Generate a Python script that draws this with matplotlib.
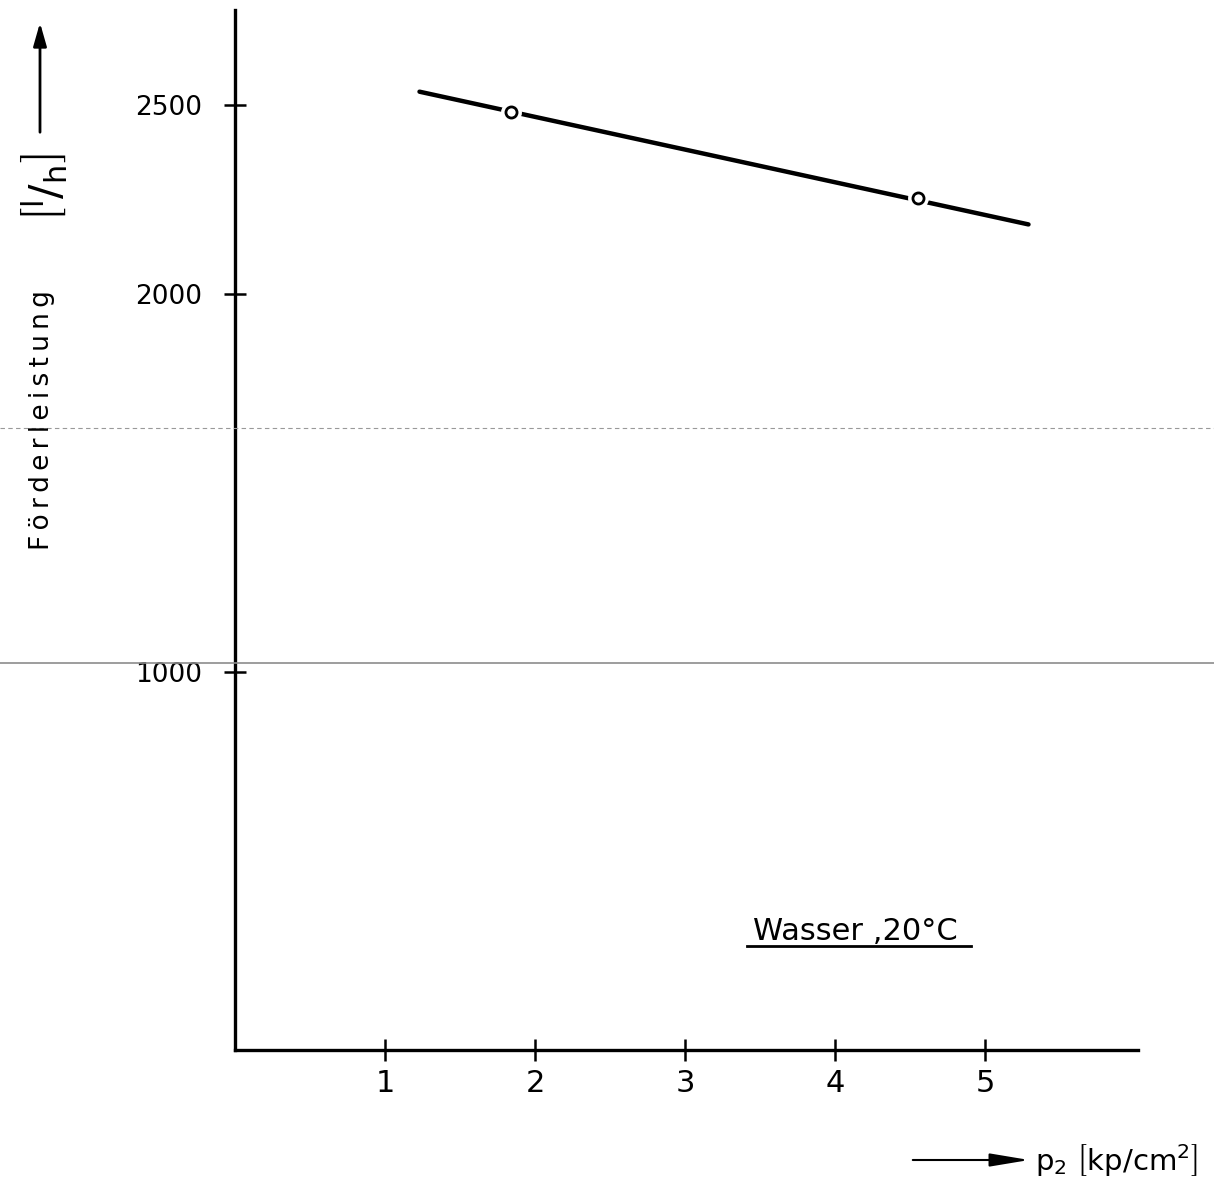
import matplotlib.pyplot as plt
from matplotlib.lines import Line2D
from matplotlib.patches import FancyArrowPatch

# Förderleistung über Druck p2 (Wasser, 20 °C)
line_p2 = [1.23, 5.29]
line_q = [2534, 2183]
meas_p2 = [1.84, 4.55]
meas_q = [2479, 2252]

x_ticks = [1, 2, 3, 4, 5]
x_ticklabels = ["1", "2", "3", "4", "5"]
y_ticks = [1000, 2000, 2500]
y_ticklabels = ["1000", "2000", "2500"]


def main() -> None:
    fig = plt.figure(figsize=(12.14, 11.96), dpi=100)
    ax = fig.add_axes([235 / 1214, 1 - 1050 / 1196, (1138 - 235) / 1214, (1050 - 10) / 1196])
    ax.set_xlim(0, 6.02)
    ax.set_ylim(0, 2750)

    for side in ("top", "right"):
        ax.spines[side].set_visible(False)
    for side in ("left", "bottom"):
        ax.spines[side].set_linewidth(2.4)

    ax.set_xticks(x_ticks)
    ax.set_xticklabels(x_ticklabels, family="Liberation Sans Narrow", fontsize=22)
    ax.set_yticks(y_ticks)
    ax.set_yticklabels(y_ticklabels, family="DejaVu Sans", fontsize=19)
    ax.tick_params(axis="x", direction="inout", length=16, width=1.8, pad=6)
    ax.tick_params(axis="y", direction="inout", length=16, width=1.8, pad=16)

    ax.plot(line_p2, line_q, color="black", lw=3.2, solid_capstyle="round")
    ax.plot(meas_p2, meas_q, "o", ms=14, mfc="white", mec="white", zorder=3)
    ax.plot(meas_p2, meas_q, "o", ms=8, mfc="white", mec="black", mew=2, zorder=4)

    # Legendentext unten rechts
    ax.text(0.574, (1050 - 940) / 1040, "Wasser ,20°C", transform=ax.transAxes,
            fontsize=22, family="DejaVu Sans", ha="left", va="baseline")
    ax.add_line(Line2D([0.567, 0.815], [0.1, 0.1], transform=ax.transAxes,
                       color="black", lw=2))

    # y-Achsenbeschriftung mit Pfeil
    fig.text(42 / 1214, 1 - 420 / 1196, "\u2009".join("Förderleistung"), rotation=90,
             fontsize=19, ha="center", va="center", family="DejaVu Sans")
    fig.text(44 / 1214, 1 - 188 / 1196, r"$\left[\mathrm{^l/_h}\right]$", rotation=90,
             fontsize=31, ha="center", va="center")
    fig.patches.append(FancyArrowPatch(
        (40 / 1214, 1 - 135 / 1196), (40 / 1214, 1 - 20 / 1196),
        transform=fig.transFigure, arrowstyle="-|>,head_length=14,head_width=4",
        color="black", lw=2))

    # x-Achsenbeschriftung mit Pfeil
    fig.patches.append(FancyArrowPatch(
        (910 / 1214, 1 - 1160 / 1196), (1032 / 1214, 1 - 1160 / 1196),
        transform=fig.transFigure, arrowstyle="-|>,head_length=24,head_width=4",
        color="black", lw=1.5))
    fig.text(1035 / 1214, 1 - 1160 / 1196,
             r"$\mathrm{p_2}\ \left[\mathrm{kp/cm^2}\right]$",
             fontsize=21, ha="left", va="center")

    # Scan-Linien
    fig.add_artist(Line2D([0, 1], [1 - 428 / 1196] * 2, transform=fig.transFigure,
                          color="0.6", lw=0.8, ls=(0, (4, 3))))
    fig.add_artist(Line2D([0, 1], [1 - 663 / 1196] * 2, transform=fig.transFigure,
                          color="0.55", lw=1.2))

    fig.savefig("out.png", dpi=100)
    plt.close(fig)


if __name__ == "__main__":
    main()
